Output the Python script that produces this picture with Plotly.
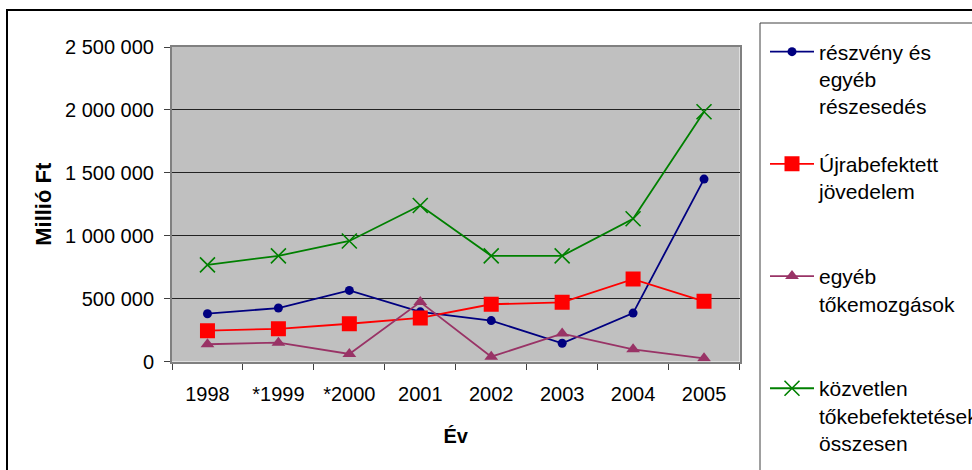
import plotly.graph_objects as go

categories = ["1998", "*1999", "*2000", "2001", "2002", "2003", "2004", "2005"]
reszveny = [380000, 425000, 565000, 395000, 325000, 145000, 385000, 1450000]
ujrabefektetett = [245000, 260000, 300000, 346000, 455000, 470000, 655000, 478000]
egyeb_toke = [137000, 150000, 60000, 472000, 38000, 222000, 97000, 25000]
kozvetlen = [768000, 840000, 958000, 1240000, 840000, 840000, 1135000, 1985000]

series_names = [
    "részvény és<br>egyéb<br>részesedés<br>\u00a0",
    "Újrabefektett<br>jövedelem<br>\u00a0<br>\u00a0",
    "egyéb<br>tőkemozgások<br>\u00a0<br>\u00a0",
    "közvetlen<br>tőkebefektetések<br>összesen",
]
y_tick_vals = [0, 500000, 1000000, 1500000, 2000000, 2500000]
y_tick_text = ["0", "500 000", "1 000 000", "1 500 000", "2 000 000", "2 500 000"]

W, H = 972, 470
PL, PR, PT, PB = 172, 739.5, 47, 361.5
FONT = "Liberation Sans, Arial, sans-serif"

fig = go.Figure()
fig.add_trace(go.Scatter(
    x=categories, y=reszveny, name=series_names[0], mode="lines+markers",
    line=dict(color="#000080", width=1.8),
    marker=dict(symbol="circle", size=9, color="#000080"),
))
fig.add_trace(go.Scatter(
    x=categories, y=ujrabefektetett, name=series_names[1], mode="lines+markers",
    line=dict(color="#FF0000", width=1.8),
    marker=dict(symbol="square", size=15, color="#FF0000"),
))
fig.add_trace(go.Scatter(
    x=categories, y=egyeb_toke, name=series_names[2], mode="lines+markers",
    line=dict(color="#993366", width=1.8),
    marker=dict(symbol="triangle-up", size=12, color="#993366"),
))
fig.add_trace(go.Scatter(
    x=categories, y=kozvetlen, name=series_names[3], mode="lines+markers",
    line=dict(color="#008000", width=1.8),
    marker=dict(symbol="x-thin", size=15, color="#008000",
                line=dict(color="#008000", width=1.6)),
))

fig.update_layout(
    width=W, height=H,
    margin=dict(l=0, r=0, t=0, b=0, autoexpand=False),
    paper_bgcolor="white",
    plot_bgcolor="#C0C0C0",
    font=dict(family=FONT, size=20, color="black"),
    xaxis=dict(
        domain=[PL / W, PR / W],
        type="category", range=[-0.5, 7.5],
        tickson="boundaries", ticks="outside", ticklen=6, tickcolor="#404040",
        showline=True, linecolor="#808080", linewidth=2, mirror=True,
        showgrid=False, ticklabelstandoff=13,
        tickfont=dict(size=20),
        title=dict(text="<b>Év</b>", font=dict(size=20), standoff=25),
    ),
    yaxis=dict(
        domain=[(H - PB) / H, (H - PT) / H],
        range=[0, 2500000],
        tickvals=y_tick_vals, ticktext=y_tick_text,
        ticks="outside", ticklen=6, tickcolor="#404040",
        showline=True, linecolor="#808080", linewidth=2, mirror=True,
        showgrid=True, gridcolor="#222222", gridwidth=1,
        zeroline=False, ticklabelstandoff=6,
        tickfont=dict(size=20),
        title=dict(text="<b>Millió Ft</b>", font=dict(size=22), standoff=7),
    ),
    showlegend=True,
    legend=dict(
        x=765 / W, y=(H - 31.5) / H, xanchor="left", yanchor="top",
        bgcolor="rgba(0,0,0,0)", borderwidth=0, itemwidth=44,
        font=dict(family=FONT, size=21, color="black"),
        valign="top", tracegroupgap=0,
    ),
    shapes=[
        dict(type="rect", xref="paper", yref="paper",
             x0=7 / W, x1=1.05, y0=-0.05, y1=(H - 10) / H,
             line=dict(color="black", width=2), fillcolor="rgba(0,0,0,0)", layer="above"),
        dict(type="rect", xref="paper", yref="paper",
             x0=760 / W, x1=1.05, y0=-0.05, y1=(H - 23) / H,
             line=dict(color="#404040", width=1), fillcolor="rgba(0,0,0,0)", layer="above"),
    ],
)

fig.write_html(
    "out.html",
    config={"displayModeBar": False},
    post_script="document.body.style.margin='0';document.body.style.overflow='hidden';",
)
